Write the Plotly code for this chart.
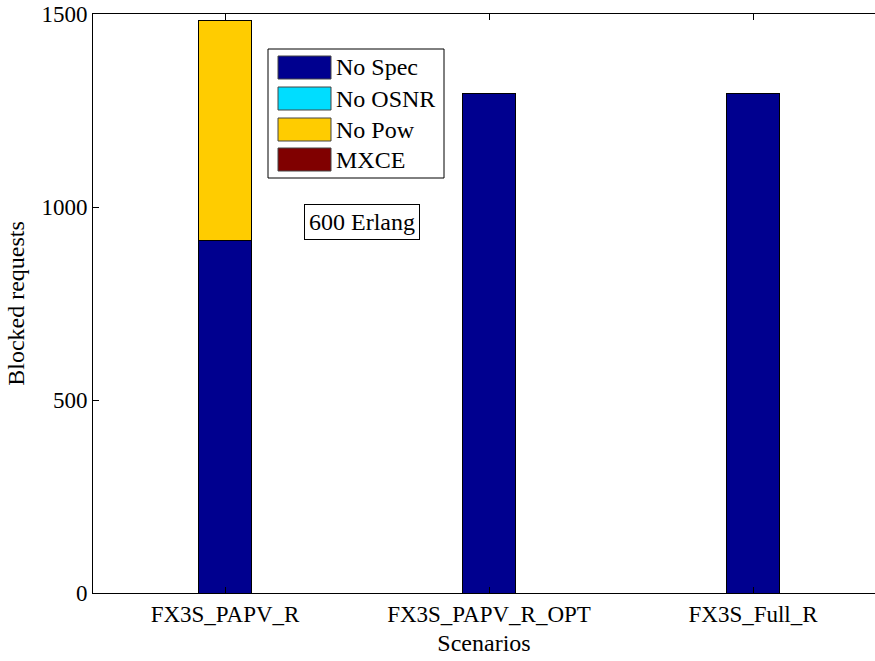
import plotly.graph_objects as go

categories = ["FX3S_PAPV_R", "FX3S_PAPV_R_OPT", "FX3S_Full_R"]
series_names = ["No Spec", "No OSNR", "No Pow", "MXCE"]
no_spec = [914, 1295, 1295]
no_osnr = [0, 0, 0]
no_pow = [570, 0, 0]
mxce = [0, 0, 0]
series_values = [no_spec, no_osnr, no_pow, mxce]
colors = ["#00008F", "#00DDFF", "#FFCC00", "#800000"]
y_ticks = [0, 500, 1000, 1500]

W, H = 875, 661
L, R, T, B = 93, 0, 14, 68
PW, PH = W - L - R, H - T - B
FONT = "Liberation Serif, Times New Roman, Times, serif"
FS_TICK = 23
FS_TEXT = 24

def px(x):
    return (x - L) / PW

def py(y):
    return (H - B - y) / PH

fig = go.Figure()
for name, vals, col in zip(series_names, series_values, colors):
    fig.add_trace(go.Bar(
        x=categories, y=vals, name=name, width=0.2,
        marker=dict(color=col, line=dict(color="black", width=1)),
        showlegend=False,
    ))

shapes = []
annotations = []
# custom legend box (MATLAB style)
shapes.append(dict(type="rect", xref="paper", yref="paper",
                   x0=px(268), x1=px(444), y0=py(178), y1=py(49),
                   line=dict(color="black", width=1), fillcolor="white", layer="above"))
row_tops = [56, 87, 118, 148]
for name, col, top in zip(series_names, colors, row_tops):
    shapes.append(dict(type="rect", xref="paper", yref="paper",
                       x0=px(278), x1=px(331), y0=py(top + 23), y1=py(top),
                       line=dict(color="#444444", width=1), fillcolor=col, layer="above"))
    annotations.append(dict(xref="paper", yref="paper", x=px(334), y=py(top + 11.5),
                            text=name, showarrow=False, xanchor="left", yanchor="middle",
                            font=dict(family=FONT, size=FS_TEXT, color="black")))

annotations.append(dict(xref="paper", yref="paper", x=px(362), y=py(221.5),
                        text="600 Erlang", showarrow=False, xanchor="center", yanchor="middle",
                        bgcolor="white", bordercolor="black", borderwidth=1, borderpad=4,
                        font=dict(family=FONT, size=FS_TEXT, color="black")))

fig.update_layout(
    width=W, height=H, autosize=False,
    margin=dict(l=L, r=R, t=T, b=B, pad=0),
    barmode="stack",
    plot_bgcolor="white", paper_bgcolor="white",
    font=dict(family=FONT, size=FS_TICK, color="black"),
    shapes=shapes, annotations=annotations,
    xaxis=dict(
        type="category", range=[-0.5, 2.462],
        showline=True, linecolor="black", linewidth=1, mirror="ticks",
        ticks="inside", ticklen=6, tickcolor="black",
        showgrid=False, zeroline=False,
        title=dict(text="Scenarios", font=dict(family=FONT, size=FS_TEXT), standoff=8),
        tickfont=dict(family=FONT, size=FS_TICK),
    ),
    yaxis=dict(
        range=[0, 1500], tickvals=y_ticks,
        showline=True, linecolor="black", linewidth=1, mirror=False,
        ticks="inside", ticklen=6, tickcolor="black",
        showgrid=False, zeroline=False,
        title=dict(text="Blocked requests", font=dict(family=FONT, size=FS_TEXT), standoff=10),
        tickfont=dict(family=FONT, size=FS_TICK),
    ),
)

fig.write_html("out.html", config={"displayModeBar": False},
               post_script="document.body.style.margin='0px';document.body.style.overflow='hidden';")
